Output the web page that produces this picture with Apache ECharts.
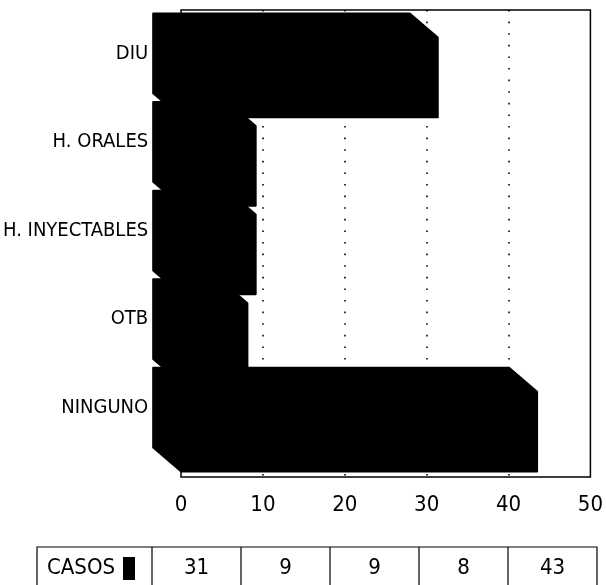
<!DOCTYPE html>
<html>
<head>
<meta charset="utf-8">
<script src="https://cdn.jsdelivr.net/npm/echarts@6/dist/echarts.min.js"></script>
<style>
  html, body { margin: 0; padding: 0; background: #fff; }
  #chart { width: 606px; height: 585px; }
</style>
</head>
<body>
<div id="chart"></div>
<script>
// Métodos anticonceptivos y número de casos
const metodos = ['DIU', 'H. ORALES', 'H. INYECTABLES', 'OTB', 'NINGUNO'];
const casos = [31, 9, 9, 8, 43];
const serieNombre = 'CASOS';

const FONT = '"Liberation Sans Narrow", "DejaVu Sans Condensed", "Arial Narrow", sans-serif';
const DEPTH_X = 28;   // profundidad del efecto 3D (px)
const DEPTH_Y = 24;
const AXIS_MAX = 50;
const AXIS_STEP = 10;

// Marco del gráfico (cara frontal) y plano posterior de las barras
const FRAME = { left: 181, right: 11, top: 10, bottom: 108 };
const BACK = { left: FRAME.left - DEPTH_X, right: FRAME.right + DEPTH_X, top: 9, bottom: 133 };

// Tabla de datos inferior
const TABLE = { left: 37, top: 547, height: 60, firstCol: 115, col: 89 };

const chart = echarts.init(document.getElementById('chart'), null, { renderer: 'canvas' });

function renderBar(params, api) {
  const val = api.value(0);
  const cat = api.value(1);
  const p0 = api.coord([0, cat]);
  const p1 = api.coord([val, cat]);
  const h = api.size([0, 1])[1] * 0.9;
  const top = p0[1] - h / 2;
  const bot = p0[1] + h / 2;
  const x0 = p0[0];
  const x1 = p1[0];
  const pts = [
    [x0, top],
    [x1, top],
    [x1 + DEPTH_X, top + DEPTH_Y],
    [x1 + DEPTH_X, bot + DEPTH_Y],
    [x0 + DEPTH_X, bot + DEPTH_Y],
    [x0, bot]
  ];
  return {
    type: 'polygon',
    shape: { points: pts },
    style: { fill: '#000', stroke: '#000', lineWidth: 2, lineJoin: 'round' }
  };
}

function buildTable() {
  const els = [];
  const right = TABLE.left + TABLE.firstCol + TABLE.col * casos.length;
  const cy = TABLE.top + 21;
  els.push({
    type: 'rect',
    shape: { x: TABLE.left, y: TABLE.top, width: right - TABLE.left, height: TABLE.height },
    style: { fill: 'none', stroke: '#000', lineWidth: 1.2 }
  });
  for (let i = 0; i < casos.length; i++) {
    const x = TABLE.left + TABLE.firstCol + TABLE.col * i;
    els.push({
      type: 'line',
      shape: { x1: x, y1: TABLE.top, x2: x, y2: TABLE.top + TABLE.height },
      style: { stroke: '#000', lineWidth: 1.2 }
    });
    els.push({
      type: 'text',
      x: x + TABLE.col / 2,
      y: cy,
      style: {
        text: String(casos[i]), fill: '#000', font: '22px ' + FONT,
        align: 'center', verticalAlign: 'middle'
      }
    });
  }
  els.push({
    type: 'text',
    x: TABLE.left + 10,
    y: cy,
    style: {
      text: serieNombre, fill: '#000', font: '22px ' + FONT,
      align: 'left', verticalAlign: 'middle'
    }
  });
  els.push({
    type: 'rect',
    shape: { x: TABLE.left + 86, y: TABLE.top + 10, width: 12, height: 23 },
    style: { fill: '#000' }
  });
  return els;
}

const option = {
  animation: false,
  backgroundColor: '#fff',
  grid: [
    {
      left: FRAME.left, right: FRAME.right, top: FRAME.top, bottom: FRAME.bottom,
      show: true, borderColor: '#000', borderWidth: 1.5, backgroundColor: 'transparent'
    },
    { left: BACK.left, right: BACK.right, top: BACK.top, bottom: BACK.bottom, show: false }
  ],
  xAxis: [
    {
      gridIndex: 0, type: 'value', min: 0, max: AXIS_MAX, interval: AXIS_STEP,
      axisLine: { show: false }, axisTick: { show: false },
      axisLabel: { color: '#000', fontSize: 22, fontFamily: FONT, margin: 17 },
      splitLine: {
        show: true, showMinLine: false, showMaxLine: false,
        lineStyle: { color: '#000', width: 1.6, type: [1.6, 10] }
      }
    },
    {
      gridIndex: 1, type: 'value', min: 0, max: AXIS_MAX, interval: AXIS_STEP,
      show: false
    }
  ],
  yAxis: [
    { gridIndex: 0, type: 'value', show: false },
    {
      gridIndex: 1, type: 'category', data: metodos, inverse: true,
      axisLine: { show: false }, axisTick: { show: false },
      axisLabel: { color: '#000', fontSize: 20, fontFamily: FONT, margin: 5 },
      splitLine: { show: false }
    }
  ],
  series: [
    {
      name: serieNombre,
      type: 'custom',
      xAxisIndex: 1,
      yAxisIndex: 1,
      renderItem: renderBar,
      encode: { x: 0, y: 1 },
      data: casos.map((v, i) => [v, i]),
      z: 5
    }
  ],
  graphic: buildTable()
};

chart.setOption(option);
</script>
</body>
</html>
